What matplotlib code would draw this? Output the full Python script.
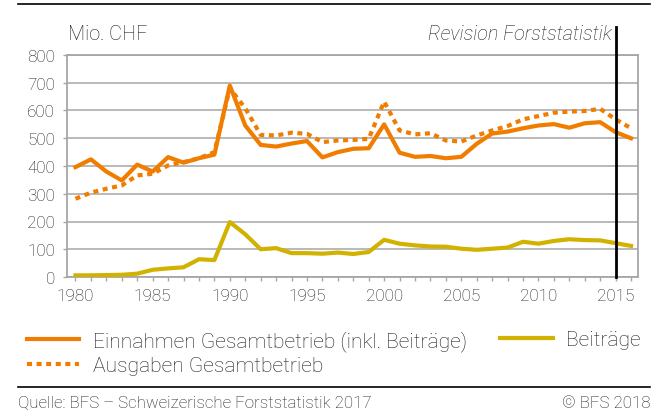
import matplotlib
matplotlib.use("Agg")
import matplotlib.pyplot as plt
from matplotlib.lines import Line2D

years = list(range(1980, 2017))
einnahmen = [396, 424, 380, 348, 405, 380, 432, 412, 428, 441, 690, 546, 476, 470, 481, 490,
             431, 450, 462, 464, 550, 448, 433, 436, 428, 433, 480, 517, 524, 536, 546, 551,
             538, 554, 558, 522, 500]
ausgaben = [282, 304, 318, 330, 366, 372, 402, 414, 428, 450, 680, 608, 512, 510, 520, 516,
            486, 492, 494, 498, 632, 528, 514, 518, 492, 488, 510, 528, 544, 568, 580, 592,
            596, 598, 606, 568, 536]
beitraege = [6, 6, 7, 8, 12, 26, 31, 35, 64, 61, 198, 154, 100, 104, 86, 86, 84, 88, 83, 90,
             134, 120, 114, 110, 109, 102, 98, 102, 106, 127, 120, 130, 136, 133, 132, 122, 112]
yticks = [0, 100, 200, 300, 400, 500, 600, 700, 800]
xticklabels = [1980, 1985, 1990, 1995, 2000, 2005, 2010, 2015]
revision_year = 2015

orange = "#F07D00"
yellow = "#D2B200"
grid = "#A6A6A6"
txt = "#1e1e1e"
dots = (0, (1.2, 1.1))

plt.rcParams['font.family'] = ['Roboto', 'DejaVu Sans']

fig = plt.figure(figsize=(6.59, 4.14), dpi=100)
ax = fig.add_axes([67/659, 1-278/414, (638-67)/659, (278-56)/414])

ax.plot(years, beitraege, color=yellow, lw=3, solid_joinstyle='round', zorder=3)
ax.plot(years, ausgaben, color=orange, lw=3, linestyle=dots, dash_capstyle='butt', zorder=4)
ax.plot(years, einnahmen, color=orange, lw=3, solid_joinstyle='round', zorder=5)

ax.set_xlim(1979.45, 2016.45)
ax.set_ylim(0, 800)
ax.set_yticks(yticks)
ax.set_yticklabels([str(v) for v in yticks])
ax.set_xticks(years)
ax.set_xticklabels([str(y) if y in xticklabels else "" for y in years])
ax.yaxis.grid(True, color=grid, lw=1.1)
ax.set_axisbelow(True)
for s in ax.spines.values():
    s.set_color(grid)
    s.set_linewidth(1.3)
ax.tick_params(axis='both', colors=grid, length=3, width=1, labelcolor=txt, labelsize=12.3)
for lab in ax.get_xticklabels() + ax.get_yticklabels():
    lab.set_fontweight('light')
ax.tick_params(axis='x', pad=5)
ax.tick_params(axis='y', pad=5.5)

# revision line
ax.axvline(revision_year, color='black', lw=2, ymin=0, ymax=(278-28)/(278-56), clip_on=False, zorder=6)

fig.text(68/659, 1-35/414, "Mio. CHF", fontsize=14.3, color=txt, fontweight='light', va='center')
fig.text(612/659, 1-35/414, "Revision Forststatistik", fontsize=14.3, color=txt, fontweight='light',
         style='italic', va='center', ha='right')

# top and bottom rules
fig.add_artist(Line2D([18/659, 650/659], [1-5/414, 1-5/414], color='black', lw=1.2))
fig.add_artist(Line2D([18/659, 650/659], [1-388/414, 1-388/414], color='black', lw=1.2))

legprops = {'family': 'Roboto', 'weight': 'light', 'size': 15.1}
h1 = Line2D([], [], color=orange, lw=3)
h2 = Line2D([], [], color=orange, lw=3, linestyle=dots, dash_capstyle='butt')
h3 = Line2D([], [], color=yellow, lw=3)
leg1 = fig.legend([h1, h2], ["Einnahmen Gesamtbetrieb (inkl. Beiträge)", "Ausgaben Gesamtbetrieb"],
                  loc='upper left', bbox_to_anchor=(27/659, 1-331/414), frameon=False,
                  prop=legprops, handlelength=2.5, handletextpad=0.65, labelspacing=0.25,
                  borderaxespad=0, borderpad=0)
leg2 = fig.legend([h3], ["Beiträge"],
                  loc='upper right', bbox_to_anchor=(641/659, 1-331/414), frameon=False,
                  prop=legprops, handlelength=2.5, handletextpad=0.65, labelspacing=0.25,
                  borderaxespad=0, borderpad=0)
for lg in (leg1, leg2):
    for t in lg.get_texts():
        t.set_color(txt)

fig.text(18/659, 1-404/414, "Quelle: BFS – Schweizerische Forststatistik 2017", fontsize=12.2, color=txt,
         fontweight='light', va='center')
fig.text(650/659, 1-404/414, "© BFS 2018", fontsize=12.2, color=txt, fontweight='light', va='center', ha='right')

fig.savefig("out.png", dpi=100)
